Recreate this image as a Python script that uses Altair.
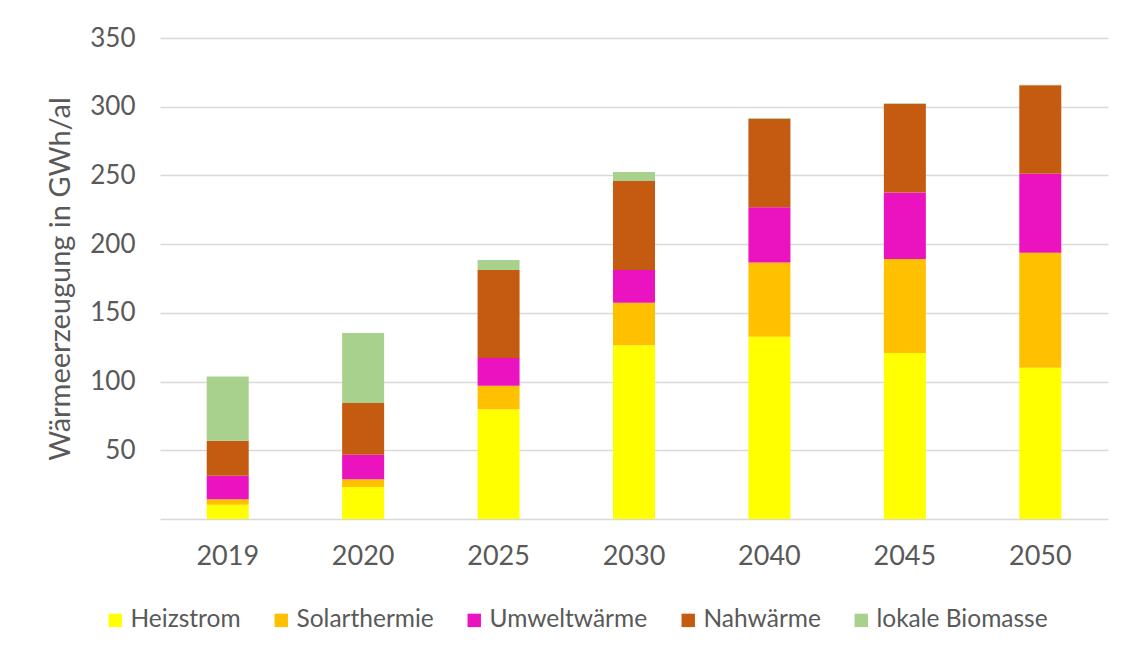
import altair as alt
import pandas as pd

years = ["2019", "2020", "2025", "2030", "2040", "2045", "2050"]
sources = ["Heizstrom", "Solarthermie", "Umweltwärme", "Nahwärme", "lokale Biomasse"]
colors = ["#FFFF00", "#FFC000", "#EB12C0", "#C55A11", "#A9D18E"]

heizstrom = [10.4, 23.3, 79.8, 126.4, 132.7, 120.8, 110.1]
solarthermie = [3.9, 5.6, 17.2, 31.0, 53.9, 68.4, 83.7]
umweltwaerme = [17.2, 17.9, 20.2, 23.8, 40.3, 48.3, 57.5]
nahwaerme = [25.5, 37.6, 64.0, 64.8, 64.4, 64.5, 64.3]
biomasse = [46.6, 51.0, 7.3, 6.5, 0.5, 0.5, 0.4]

series = [heizstrom, solarthermie, umweltwaerme, nahwaerme, biomasse]
rows = []
for si, (name, vals) in enumerate(zip(sources, series)):
    for y, v in zip(years, vals):
        rows.append({"Jahr": y, "Quelle": name, "Wert": v, "ord": si})
df = pd.DataFrame(rows)

FONT = "Lato"
GREY = "#595959"

chart = alt.Chart(df).mark_bar(size=42).encode(
    x=alt.X("Jahr:N", sort=years, title=None,
            axis=alt.Axis(labelAngle=0, ticks=False, domainColor="#D9D9D9", domainWidth=1.5,
                          labelFontSize=27, labelColor=GREY, labelPadding=24, labelFont=FONT)),
    y=alt.Y("Wert:Q", title="Wärmeerzeugung in GWh/al",
            scale=alt.Scale(domain=[0, 350], nice=False),
            axis=alt.Axis(values=[50, 100, 150, 200, 250, 300, 350], ticks=False, domain=False,
                          gridColor="#D9D9D9", gridWidth=1.5,
                          labelFontSize=26, labelColor=GREY, labelPadding=25, labelFont=FONT,
                          titleFontSize=29, titleColor=GREY, titleFont=FONT, titleFontWeight="normal",
                          titlePadding=14)),
    color=alt.Color("Quelle:N", scale=alt.Scale(domain=sources, range=colors),
                    legend=alt.Legend(title=None, orient="none", direction="horizontal",
                                      legendX=-57, legendY=570, symbolType="square",
                                      symbolSize=180, symbolStrokeWidth=0, labelFontSize=24.5,
                                      labelColor=GREY, labelFont=FONT, columnPadding=28,
                                      labelOffset=3, labelLimit=400)),
    order=alt.Order("ord:Q", sort="ascending"),
).properties(
    width=948, height=481,
    autosize=alt.AutoSizeParams(type="none"),
    padding={"left": 152, "top": 30, "right": 8, "bottom": 112},
).configure_view(stroke=None)

chart.save("out.html", embed_options={"renderer": "svg", "actions": False})
